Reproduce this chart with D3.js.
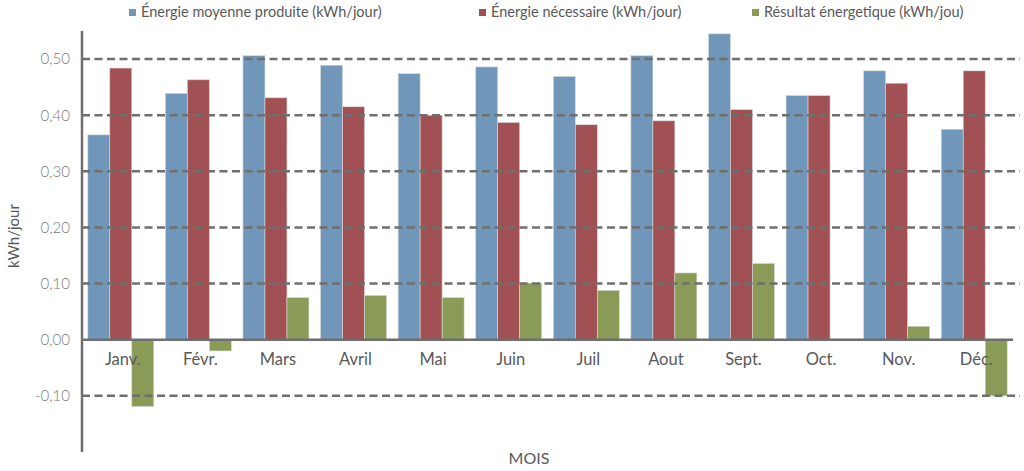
<!DOCTYPE html>
<html>
<head>
<meta charset="utf-8">
<script src="https://cdn.jsdelivr.net/npm/d3@7"></script>
<style>
  body { margin: 0; background: #fff; }
  text { font-family: Lato, "Open Sans", sans-serif; }
</style>
</head>
<body>
<div id="chart"></div>
<script>
'use strict';

// data
var months = ["Janv.", "Févr.", "Mars", "Avril", "Mai", "Juin", "Juil", "Aout", "Sept.", "Oct.", "Nov.", "Déc."];
var seriesNames = ["Énergie moyenne produite (kWh/jour)", "Énergie nécessaire (kWh/jour)", "Résultat énergetique (kWh/jou)"];
var produite = [0.365, 0.439, 0.506, 0.489, 0.474, 0.486, 0.469, 0.506, 0.545, 0.435, 0.479, 0.375];
var necessaire = [0.484, 0.463, 0.431, 0.415, 0.400, 0.387, 0.383, 0.390, 0.410, 0.435, 0.457, 0.479];
var resultat = [-0.119, -0.020, 0.075, 0.079, 0.075, 0.101, 0.088, 0.119, 0.136, 0.000, 0.024, -0.100];
var yTicks = [-0.1, 0, 0.1, 0.2, 0.3, 0.4, 0.5];

var svgWidth = 1024, svgHeight = 471;
var colors = ["#7097b9", "#a15153", "#8a9b57"];
var gridColor = "#6f6f6f";

var series = [produite, necessaire, resultat];

var svg = d3.select("#chart")
  .append("svg")
  .attr("width", svgWidth)
  .attr("height", svgHeight);

var plot = { left: 82, right: 1013, top: 31, bottom: 452 };

var x0 = d3.scaleBand()
  .domain(months)
  .range([plot.left, plot.right])
  .padding(0);

var x1 = d3.scaleBand()
  .domain([0, 1, 2])
  .range([5.8, x0.bandwidth() - 5.8])
  .padding(0);

var y = d3.scaleLinear()
  .domain([-0.2, 0.55])
  .range([plot.bottom, plot.top]);

// bars
var groups = svg.append("g")
  .selectAll("g")
  .data(months)
  .join("g")
  .attr("transform", function(d) { return "translate(" + x0(d) + ",0)"; });

groups.selectAll("rect")
  .data(function(d, i) { return series.map(function(s, k) { return { k: k, v: s[i] }; }); })
  .join("rect")
  .attr("x", function(d) { return x1(d.k); })
  .attr("y", function(d) { return y(Math.max(0, d.v)); })
  .attr("width", x1.bandwidth())
  .attr("height", function(d) { return Math.abs(y(d.v) - y(0)); })
  .attr("fill", function(d) { return colors[d.k]; })
  .attr("stroke", "#d9d9d9")
  .attr("stroke-width", 0.6);

// dashed grid lines, drawn over the bars
svg.append("g")
  .selectAll("line")
  .data(yTicks.filter(function(t) { return t !== 0; }))
  .join("line")
  .attr("x1", plot.left)
  .attr("x2", 1020)
  .attr("y1", function(d) { return y(d); })
  .attr("y2", function(d) { return y(d); })
  .attr("stroke", gridColor)
  .attr("stroke-width", 2.5)
  .attr("stroke-dasharray", "8,4.5");

// zero line
svg.append("line")
  .attr("x1", plot.left)
  .attr("x2", plot.right)
  .attr("y1", y(0))
  .attr("y2", y(0))
  .attr("stroke", gridColor)
  .attr("stroke-width", 2.5);

// y axis
var yAxis = d3.axisLeft(y)
  .tickValues(yTicks)
  .tickSize(0)
  .tickPadding(12)
  .tickFormat(function(d) { return d3.format(".2f")(d).replace(".", ",").replace("−", "-"); });

var yAxisG = svg.append("g")
  .attr("transform", "translate(" + plot.left + ",0)")
  .call(yAxis);
yAxisG.select(".domain").remove();
yAxisG.selectAll("text")
  .attr("fill", "#7a7a7a")
  .style("font-size", "15px")
  .style("font-weight", 300)
  .style("font-family", "Lato, sans-serif");

svg.append("line")
  .attr("x1", plot.left)
  .attr("x2", plot.left)
  .attr("y1", plot.top)
  .attr("y2", plot.bottom)
  .attr("stroke", gridColor)
  .attr("stroke-width", 2.5);

// month labels just under the zero line
svg.append("g")
  .selectAll("text")
  .data(months)
  .join("text")
  .attr("x", function(d) { return x0(d) + x0.bandwidth() / 2 + 2; })
  .attr("y", y(0) + 25)
  .attr("text-anchor", "middle")
  .attr("fill", "#595959")
  .style("font-size", "16.5px")
  .text(function(d) { return d; });

// axis titles
svg.append("text")
  .attr("x", 529)
  .attr("y", 464)
  .attr("text-anchor", "middle")
  .attr("fill", "#595959")
  .style("font-size", "16px")
  .text("MOIS");

svg.append("text")
  .attr("transform", "translate(19,236) rotate(-90)")
  .attr("text-anchor", "middle")
  .attr("fill", "#595959")
  .style("font-size", "15px")
  .text("kWh/jour");

// legend
var legendX = [129, 479, 752];
var legend = svg.append("g")
  .selectAll("g")
  .data(seriesNames)
  .join("g")
  .attr("transform", function(d, i) { return "translate(" + legendX[i] + ",0)"; });

legend.append("rect")
  .attr("x", 0)
  .attr("y", 9)
  .attr("width", 7)
  .attr("height", 7)
  .attr("fill", function(d, i) { return colors[i]; });

legend.append("text")
  .attr("x", 12)
  .attr("y", 17)
  .attr("fill", "#595959")
  .style("font-size", "14.5px")
  .text(function(d) { return d; });
</script>
</body>
</html>
